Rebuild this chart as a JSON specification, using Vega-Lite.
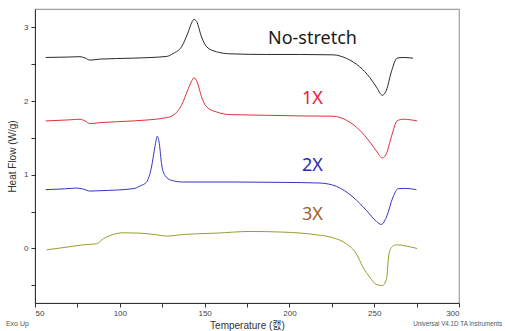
{
  "$schema": "https://vega.github.io/schema/vega-lite/v6.json",
  "width": 424,
  "height": 294,
  "autosize": "none",
  "padding": {"left": 35, "top": 9, "right": 46, "bottom": 28},
  "background": "white",
  "config": {
    "view": {"stroke": "#a0a0a0", "strokeWidth": 1.2},
    "axis": {
      "domainColor": "#333333",
      "domainWidth": 1,
      "tickColor": "#333333",
      "tickSize": 4,
      "labelFont": "Liberation Sans",
      "labelFontSize": 8,
      "labelColor": "#444444",
      "titleFont": "Liberation Sans, Noto Sans CJK KR",
      "titleFontSize": 10,
      "titleFontWeight": "normal",
      "titleColor": "#333333",
      "grid": false
    }
  },
  "datasets": {
    "curves": [
      {"series": "No-stretch", "t": 56.3, "hf": 2.592},
      {"series": "No-stretch", "t": 70.0, "hf": 2.598},
      {"series": "No-stretch", "t": 76.5, "hf": 2.603},
      {"series": "No-stretch", "t": 79.5, "hf": 2.585},
      {"series": "No-stretch", "t": 82.4, "hf": 2.556},
      {"series": "No-stretch", "t": 88.3, "hf": 2.570},
      {"series": "No-stretch", "t": 107.9, "hf": 2.583},
      {"series": "No-stretch", "t": 127.6, "hf": 2.606},
      {"series": "No-stretch", "t": 131.5, "hf": 2.647},
      {"series": "No-stretch", "t": 136.4, "hf": 2.737},
      {"series": "No-stretch", "t": 140.4, "hf": 2.940},
      {"series": "No-stretch", "t": 142.5, "hf": 3.070},
      {"series": "No-stretch", "t": 143.7, "hf": 3.109},
      {"series": "No-stretch", "t": 145.3, "hf": 3.080},
      {"series": "No-stretch", "t": 148.2, "hf": 2.870},
      {"series": "No-stretch", "t": 151.2, "hf": 2.737},
      {"series": "No-stretch", "t": 157.0, "hf": 2.670},
      {"series": "No-stretch", "t": 164.9, "hf": 2.642},
      {"series": "No-stretch", "t": 186.5, "hf": 2.633},
      {"series": "No-stretch", "t": 206.1, "hf": 2.633},
      {"series": "No-stretch", "t": 225.8, "hf": 2.628},
      {"series": "No-stretch", "t": 233.6, "hf": 2.580},
      {"series": "No-stretch", "t": 241.5, "hf": 2.465},
      {"series": "No-stretch", "t": 247.4, "hf": 2.320},
      {"series": "No-stretch", "t": 251.3, "hf": 2.190},
      {"series": "No-stretch", "t": 254.8, "hf": 2.080},
      {"series": "No-stretch", "t": 257.2, "hf": 2.148},
      {"series": "No-stretch", "t": 260.1, "hf": 2.397},
      {"series": "No-stretch", "t": 263.5, "hf": 2.583},
      {"series": "No-stretch", "t": 267.0, "hf": 2.592},
      {"series": "No-stretch", "t": 272.9, "hf": 2.583},
      {"series": "1X", "t": 56.3, "hf": 1.731},
      {"series": "1X", "t": 70.0, "hf": 1.745},
      {"series": "1X", "t": 76.5, "hf": 1.754},
      {"series": "1X", "t": 79.5, "hf": 1.730},
      {"series": "1X", "t": 82.4, "hf": 1.695},
      {"series": "1X", "t": 88.3, "hf": 1.708},
      {"series": "1X", "t": 107.9, "hf": 1.731},
      {"series": "1X", "t": 127.6, "hf": 1.776},
      {"series": "1X", "t": 131.5, "hf": 1.808},
      {"series": "1X", "t": 136.4, "hf": 1.944},
      {"series": "1X", "t": 140.4, "hf": 2.170},
      {"series": "1X", "t": 142.5, "hf": 2.280},
      {"series": "1X", "t": 143.7, "hf": 2.316},
      {"series": "1X", "t": 145.6, "hf": 2.260},
      {"series": "1X", "t": 148.2, "hf": 2.057},
      {"series": "1X", "t": 151.2, "hf": 1.921},
      {"series": "1X", "t": 157.0, "hf": 1.853},
      {"series": "1X", "t": 164.9, "hf": 1.817},
      {"series": "1X", "t": 186.5, "hf": 1.808},
      {"series": "1X", "t": 206.1, "hf": 1.799},
      {"series": "1X", "t": 225.8, "hf": 1.795},
      {"series": "1X", "t": 233.6, "hf": 1.740},
      {"series": "1X", "t": 241.5, "hf": 1.604},
      {"series": "1X", "t": 247.4, "hf": 1.446},
      {"series": "1X", "t": 251.3, "hf": 1.323},
      {"series": "1X", "t": 254.8, "hf": 1.228},
      {"series": "1X", "t": 257.2, "hf": 1.287},
      {"series": "1X", "t": 260.1, "hf": 1.514},
      {"series": "1X", "t": 263.5, "hf": 1.731},
      {"series": "1X", "t": 267.0, "hf": 1.754},
      {"series": "1X", "t": 275.3, "hf": 1.731},
      {"series": "2X", "t": 56.3, "hf": 0.798},
      {"series": "2X", "t": 68.0, "hf": 0.810},
      {"series": "2X", "t": 74.5, "hf": 0.820},
      {"series": "2X", "t": 78.5, "hf": 0.805},
      {"series": "2X", "t": 82.4, "hf": 0.779},
      {"series": "2X", "t": 88.3, "hf": 0.784},
      {"series": "2X", "t": 107.9, "hf": 0.811},
      {"series": "2X", "t": 111.9, "hf": 0.847},
      {"series": "2X", "t": 115.8, "hf": 0.902},
      {"series": "2X", "t": 118.7, "hf": 1.106},
      {"series": "2X", "t": 120.7, "hf": 1.378},
      {"series": "2X", "t": 122.1, "hf": 1.523},
      {"series": "2X", "t": 123.3, "hf": 1.423},
      {"series": "2X", "t": 124.6, "hf": 1.151},
      {"series": "2X", "t": 126.6, "hf": 0.992},
      {"series": "2X", "t": 130.5, "hf": 0.924},
      {"series": "2X", "t": 137.4, "hf": 0.902},
      {"series": "2X", "t": 166.9, "hf": 0.902},
      {"series": "2X", "t": 196.3, "hf": 0.897},
      {"series": "2X", "t": 217.9, "hf": 0.888},
      {"series": "2X", "t": 227.7, "hf": 0.843},
      {"series": "2X", "t": 237.5, "hf": 0.698},
      {"series": "2X", "t": 245.4, "hf": 0.517},
      {"series": "2X", "t": 251.3, "hf": 0.367},
      {"series": "2X", "t": 254.2, "hf": 0.326},
      {"series": "2X", "t": 257.2, "hf": 0.426},
      {"series": "2X", "t": 261.1, "hf": 0.698},
      {"series": "2X", "t": 264.1, "hf": 0.811},
      {"series": "2X", "t": 268.0, "hf": 0.816},
      {"series": "2X", "t": 274.9, "hf": 0.798},
      {"series": "3X", "t": 56.9, "hf": -0.018},
      {"series": "3X", "t": 68.7, "hf": 0.018},
      {"series": "3X", "t": 78.5, "hf": 0.050},
      {"series": "3X", "t": 86.3, "hf": 0.063},
      {"series": "3X", "t": 90.2, "hf": 0.131},
      {"series": "3X", "t": 96.1, "hf": 0.190},
      {"series": "3X", "t": 102.0, "hf": 0.213},
      {"series": "3X", "t": 111.9, "hf": 0.208},
      {"series": "3X", "t": 121.7, "hf": 0.186},
      {"series": "3X", "t": 127.6, "hf": 0.168},
      {"series": "3X", "t": 137.4, "hf": 0.190},
      {"series": "3X", "t": 157.0, "hf": 0.208},
      {"series": "3X", "t": 176.7, "hf": 0.231},
      {"series": "3X", "t": 196.3, "hf": 0.222},
      {"series": "3X", "t": 215.9, "hf": 0.186},
      {"series": "3X", "t": 225.8, "hf": 0.145},
      {"series": "3X", "t": 233.6, "hf": 0.063},
      {"series": "3X", "t": 239.5, "hf": -0.073},
      {"series": "3X", "t": 243.4, "hf": -0.254},
      {"series": "3X", "t": 247.4, "hf": -0.390},
      {"series": "3X", "t": 251.3, "hf": -0.489},
      {"series": "3X", "t": 254.8, "hf": -0.503},
      {"series": "3X", "t": 257.2, "hf": -0.420},
      {"series": "3X", "t": 258.7, "hf": -0.073},
      {"series": "3X", "t": 260.7, "hf": 0.027},
      {"series": "3X", "t": 263.1, "hf": 0.050},
      {"series": "3X", "t": 269.0, "hf": 0.032},
      {"series": "3X", "t": 275.3, "hf": 0.000}
    ],
    "labels": [
      {"name": "No-stretch", "t": 213.6, "hf": 2.84},
      {"name": "1X", "t": 213.6, "hf": 2.03},
      {"name": "2X", "t": 213.6, "hf": 1.12},
      {"name": "3X", "t": 213.6, "hf": 0.45}
    ],
    "notesLeft": [
      {"note": "Exo Up", "t": 39.6, "hf": -1.03}
    ],
    "notesRight": [
      {"note": "Universal V4.1D TA Instruments", "t": 299.2, "hf": -1.03}
    ]
  },
  "layer": [
    {
      "data": {"name": "curves"},
      "mark": {"type": "line", "strokeWidth": 1, "interpolate": "monotone"},
      "encoding": {
        "x": {
          "field": "t", "type": "quantitative",
          "scale": {"domain": [50, 300], "nice": false, "zero": false},
          "axis": {
            "title": "Temperature (캜)",
            "values": [50, 62.5, 75, 87.5, 100, 112.5, 125, 137.5, 150, 162.5, 175, 187.5, 200, 212.5, 225, 237.5, 250, 262.5, 275, 287.5, 300],
            "labelExpr": "datum.value % 50 === 0 ? format(datum.value, 'd') : ''",
            "labelPadding": 2,
            "titlePadding": 3
          }
        },
        "y": {
          "field": "hf", "type": "quantitative",
          "scale": {"domain": [-0.74, 3.25], "nice": false, "zero": false},
          "axis": {
            "title": "Heat Flow (W/g)",
            "values": [-0.5, 0, 0.5, 1, 1.5, 2, 2.5, 3],
            "labelExpr": "datum.value % 1 === 0 ? format(datum.value, 'd') : ''",
            "labelPadding": 3,
            "titlePadding": 6
          }
        },
        "color": {
          "field": "series", "type": "nominal",
          "scale": {"domain": ["No-stretch", "1X", "2X", "3X"], "range": ["#2a2a2a", "#e0303c", "#3434c4", "#9c9c30"]},
          "legend": null
        },
        "detail": {"field": "series"}
      }
    },
    {
      "data": {"name": "labels"},
      "mark": {"type": "text", "font": "Noto Sans", "fontSize": 18, "align": "center", "baseline": "middle"},
      "encoding": {
        "x": {"field": "t", "type": "quantitative"},
        "y": {"field": "hf", "type": "quantitative"},
        "text": {"field": "name"},
        "color": {
          "field": "name", "type": "nominal",
          "scale": {"domain": ["No-stretch", "1X", "2X", "3X"], "range": ["#1a1a1a", "#e8203a", "#2a2ab0", "#a0602a"]},
          "legend": null
        }
      }
    },
    {
      "data": {"name": "notesLeft"},
      "mark": {"type": "text", "font": "Liberation Sans", "fontSize": 7, "align": "center", "baseline": "middle", "color": "#555555"},
      "encoding": {
        "x": {"field": "t", "type": "quantitative"},
        "y": {"field": "hf", "type": "quantitative"},
        "text": {"field": "note"}
      }
    },
    {
      "data": {"name": "notesRight"},
      "mark": {"type": "text", "font": "Liberation Sans", "fontSize": 6.3, "align": "center", "baseline": "middle", "color": "#555555"},
      "encoding": {
        "x": {"field": "t", "type": "quantitative"},
        "y": {"field": "hf", "type": "quantitative"},
        "text": {"field": "note"}
      }
    }
  ],
  "resolve": {"scale": {"color": "independent"}}
}
